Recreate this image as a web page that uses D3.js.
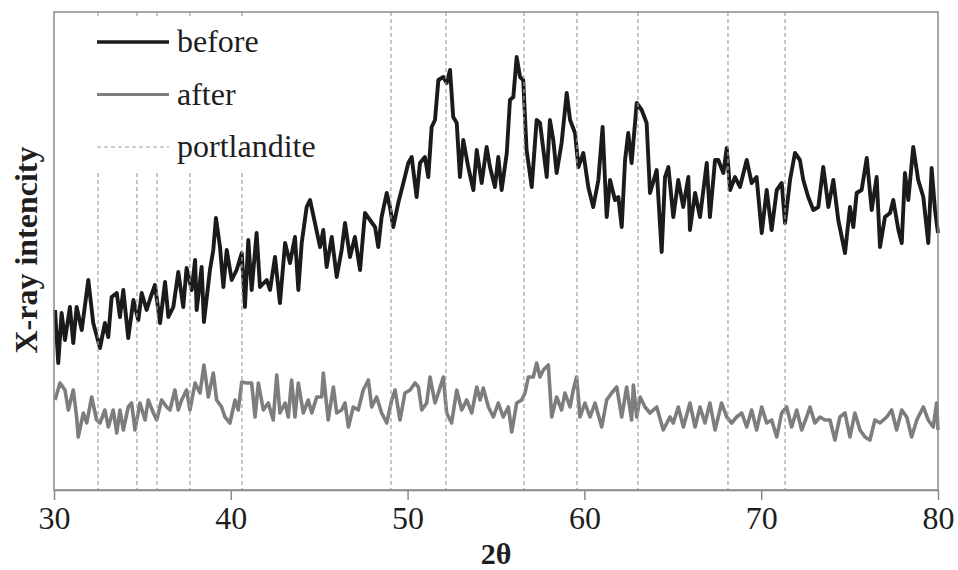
<!DOCTYPE html>
<html>
<head>
<meta charset="utf-8">
<script src="https://cdn.jsdelivr.net/npm/d3@7"></script>
<style>
  body { margin: 0; background: #fff; }
  text { font-family: "Liberation Serif", "Times New Roman", serif; fill: #1e1e1e; }
</style>
</head>
<body>
<svg></svg>
<script>
// 2theta / intensity pairs (arbitrary units)
let before = [
  [30.06,180],[30.24,127],[30.43,177],[30.62,150],[30.90,183],[31.09,147],[31.28,183],[31.57,160],[31.94,210],[32.22,167],
  [32.60,142],[32.88,167],[33.07,153],[33.26,193],[33.55,197],[33.73,173],[33.92,200],[34.20,152],[34.49,190],[34.77,170],
  [34.96,197],[35.24,180],[35.45,192],[35.71,205],[36.00,167],[36.28,208],[36.47,173],[36.75,183],[37.03,218],[37.31,183],
  [37.50,222],[37.79,200],[37.98,230],[38.07,180],[38.35,223],[38.48,168],[38.82,220],[39.01,240],[39.16,272],[39.39,243],
  [39.58,203],[39.77,240],[40.05,210],[40.33,220],[40.62,237],[40.80,183],[40.99,250],[41.18,200],[41.46,257],[41.65,203],
  [42.03,210],[42.22,200],[42.50,233],[42.78,187],[43.07,247],[43.35,227],[43.63,253],[43.82,200],[44.01,247],[44.29,283],
  [44.48,290],[44.76,267],[45.05,243],[45.23,260],[45.42,223],[45.71,253],[45.99,213],[46.27,240],[46.46,267],[46.74,233],
  [47.02,253],[47.31,220],[47.59,277],[47.87,270],[48.16,263],[48.34,243],[48.53,273],[48.82,297],[49.00,283],[49.19,263],
  [49.47,287],[49.76,307],[50.04,327],[50.23,333],[50.51,293],[50.70,327],[50.98,333],[51.17,313],[51.36,363],[51.55,370],
  [51.74,410],[52.02,413],[52.21,407],[52.40,420],[52.58,373],[52.78,367],[52.96,313],[53.15,350],[53.43,323],[53.72,300],
  [53.91,340],[54.19,307],[54.47,343],[54.66,323],[54.94,303],[55.13,333],[55.32,300],[55.61,337],[55.79,390],[55.98,393],
  [56.17,433],[56.36,413],[56.54,410],[56.73,340],[57.02,303],[57.30,370],[57.49,367],[57.68,340],[57.87,313],[58.05,370],
  [58.24,350],[58.43,317],[58.71,347],[59.00,397],[59.19,370],[59.47,357],[59.66,323],[59.94,337],[60.22,303],[60.50,283],
  [60.79,310],[61.03,363],[61.26,273],[61.45,310],[61.73,290],[61.92,293],[62.11,263],[62.30,330],[62.48,357],[62.67,327],
  [62.96,387],[63.24,380],[63.52,367],[63.71,297],[64.09,320],[64.37,238],[64.56,313],[64.75,323],[65.03,273],[65.31,310],
  [65.59,283],[65.88,313],[65.97,260],[66.26,297],[66.54,273],[66.92,327],[67.10,273],[67.39,330],[67.57,330],[67.86,317],
  [68.05,342],[68.24,300],[68.52,313],[68.80,303],[69.18,330],[69.46,307],[69.74,313],[70.03,257],[70.31,300],[70.59,260],
  [70.88,300],[71.16,307],[71.35,267],[71.63,310],[71.91,337],[72.19,330],[72.38,310],[72.66,293],[72.95,280],[73.23,283],
  [73.51,323],[73.80,283],[74.08,310],[74.36,270],[74.74,237],[75.02,283],[75.21,263],[75.40,297],[75.68,300],[75.97,332],
  [76.25,280],[76.53,313],[76.72,243],[77.00,273],[77.29,277],[77.47,290],[77.76,260],[77.95,247],[78.13,317],[78.32,290],
  [78.60,343],[78.88,310],[79.17,293],[79.45,247],[79.64,322],[79.83,280],[80.00,257]
];

let after = [
  [30.06,90],[30.34,107],[30.62,100],[30.81,80],[31.09,100],[31.28,73],[31.37,53],[31.66,77],[31.85,67],[32.13,93],
  [32.41,70],[32.60,67],[32.88,80],[33.07,63],[33.35,80],[33.55,57],[33.73,80],[33.92,60],[34.20,83],[34.39,87],
  [34.58,60],[34.86,87],[35.15,70],[35.33,90],[35.62,77],[35.81,70],[36.09,90],[36.37,83],[36.56,80],[36.84,100],
  [37.03,80],[37.22,90],[37.50,100],[37.69,80],[37.98,107],[38.26,97],[38.48,125],[38.73,93],[39.01,117],[39.20,90],
  [39.48,83],[39.67,73],[39.95,67],[40.24,90],[40.42,80],[40.62,108],[40.90,107],[41.18,107],[41.37,73],[41.56,107],
  [41.84,80],[42.12,87],[42.40,70],[42.60,115],[42.78,77],[43.07,87],[43.25,73],[43.44,110],[43.63,73],[43.82,107],
  [44.10,77],[44.38,90],[44.58,77],[44.86,93],[45.14,93],[45.23,117],[45.51,70],[45.80,103],[45.99,77],[46.27,80],
  [46.46,87],[46.65,63],[46.93,83],[47.21,80],[47.49,100],[47.78,110],[47.97,83],[48.25,93],[48.53,77],[48.82,67],
  [49.10,90],[49.29,100],[49.57,70],[49.85,97],[50.14,100],[50.42,107],[50.61,103],[50.80,80],[51.08,87],[51.27,113],
  [51.55,87],[51.74,97],[52.02,113],[52.21,77],[52.49,67],[52.78,100],[53.06,80],[53.34,90],[53.63,77],[53.91,103],
  [54.10,90],[54.28,102],[54.57,83],[54.85,73],[55.13,87],[55.41,73],[55.70,83],[55.89,58],[56.17,87],[56.45,90],
  [56.64,97],[56.83,113],[57.11,113],[57.30,127],[57.49,113],[57.68,120],[57.96,125],[58.15,73],[58.43,93],[58.71,80],
  [58.90,97],[59.19,83],[59.37,100],[59.56,113],[59.75,73],[60.03,87],[60.32,73],[60.60,87],[60.98,63],[61.26,90],
  [61.54,97],[61.83,103],[62.11,73],[62.39,103],[62.67,70],[62.77,105],[62.96,73],[63.15,93],[63.43,83],[63.71,77],
  [64.09,83],[64.46,60],[64.84,73],[65.03,67],[65.31,83],[65.60,63],[65.97,87],[66.26,63],[66.54,83],[66.82,67],
  [67.10,87],[67.39,60],[67.76,87],[68.05,73],[68.33,67],[68.61,73],[68.90,77],[69.18,63],[69.46,80],[69.74,60],
  [70.03,83],[70.31,67],[70.59,70],[70.88,53],[71.16,77],[71.44,83],[71.72,63],[72.01,80],[72.29,60],[72.57,73],
  [72.76,83],[73.04,67],[73.32,73],[73.61,70],[73.89,70],[74.17,50],[74.45,73],[74.74,77],[75.02,53],[75.30,77],
  [75.59,60],[75.87,53],[76.15,50],[76.43,70],[76.72,67],[77.10,73],[77.38,80],[77.66,60],[77.95,80],[78.23,73],
  [78.51,53],[78.80,70],[79.17,83],[79.45,70],[79.73,63],[79.92,87],[80.00,60]
];

let portlandite = [32.49, 34.69, 35.83, 37.69, 40.63, 49.06, 52.17, 56.58, 59.58, 63.03, 68.12, 71.35];
let xTicks = [30, 40, 50, 60, 70, 80];
let legendItems = ["before", "after", "portlandite"];

let width = 958;
let height = 570;
let plotLeft = 54, plotRight = 938, plotTop = 12, plotBottom = 490;

let svg = d3.select("svg").attr("width", width).attr("height", height);

let xScale = d3.scaleLinear().domain([30, 80]).range([plotLeft, plotRight]);
let yScale = d3.scaleLinear().domain([0, 478]).range([plotBottom, plotTop]);

let line = d3.line()
             .x(d => xScale(d[0]))
             .y(d => yScale(d[1]));

// curves
svg.append("path")
   .datum(after)
   .attr("d", line)
   .attr("fill", "none")
   .attr("stroke", "#7d7d7d")
   .attr("stroke-width", 3.6)
   .attr("stroke-linejoin", "round");

svg.append("path")
   .datum(before)
   .attr("d", line)
   .attr("fill", "none")
   .attr("stroke", "#1b1b1b")
   .attr("stroke-width", 3.9)
   .attr("stroke-linejoin", "round");

// portlandite reference lines
svg.selectAll(".ref")
   .data(portlandite)
   .enter()
   .append("line")
   .attr("class", "ref")
   .attr("x1", d => xScale(d)).attr("x2", d => xScale(d))
   .attr("y1", plotTop).attr("y2", plotBottom)
   .attr("stroke", "#a0a0a0")
   .attr("stroke-width", 1.2)
   .attr("stroke-dasharray", "4,3");

// legend
let legend = svg.append("g");
legend.append("rect")
      .attr("x", 88).attr("y", 17)
      .attr("width", 245).attr("height", 155)
      .attr("fill", "#fff");

let legendStyles = [
  {stroke: "#1b1b1b", width: 3.4, dash: null},
  {stroke: "#7d7d7d", width: 3.2, dash: null},
  {stroke: "#a0a0a0", width: 1.2, dash: "4,3"}
];

legendItems.forEach((name, i) => {
  let y = 42 + i * 52.5;
  legend.append("line")
        .attr("x1", 97).attr("x2", 169)
        .attr("y1", y).attr("y2", y)
        .attr("stroke", legendStyles[i].stroke)
        .attr("stroke-width", legendStyles[i].width)
        .attr("stroke-dasharray", legendStyles[i].dash);
  legend.append("text")
        .attr("x", 177).attr("y", y + 10)
        .attr("font-size", 32)
        .text(name);
});

// frame
svg.append("rect")
   .attr("x", plotLeft).attr("y", plotTop)
   .attr("width", plotRight - plotLeft).attr("height", plotBottom - plotTop)
   .attr("fill", "none")
   .attr("stroke", "#8a8a8a")
   .attr("stroke-width", 1.5);

let xAxis = d3.axisBottom(xScale)
              .tickValues(xTicks)
              .tickSize(10)
              .tickSizeOuter(0)
              .tickFormat(d3.format("d"));

let gx = svg.append("g")
            .attr("transform", "translate(0," + plotBottom + ")")
            .call(xAxis)
            .attr("font-family", "Liberation Serif, Times New Roman, serif");
gx.select(".domain").attr("stroke", "#8a8a8a").attr("stroke-width", 1.5);
gx.selectAll(".tick line").attr("stroke", "#8a8a8a").attr("stroke-width", 1.5);
gx.selectAll(".tick text")
  .attr("font-size", 32)
  .attr("fill", "#1e1e1e")
  .attr("y", 16);

// axis titles
svg.append("text")
   .attr("x", (plotLeft + plotRight) / 2)
   .attr("y", 564)
   .attr("text-anchor", "middle")
   .attr("font-size", 30)
   .attr("font-weight", "bold")
   .text("2θ");

svg.append("text")
   .attr("transform", "translate(37,250) rotate(-90)")
   .attr("text-anchor", "middle")
   .attr("font-size", 32)
   .attr("font-weight", "bold")
   .text("X-ray intencity");
</script>
</body>
</html>
